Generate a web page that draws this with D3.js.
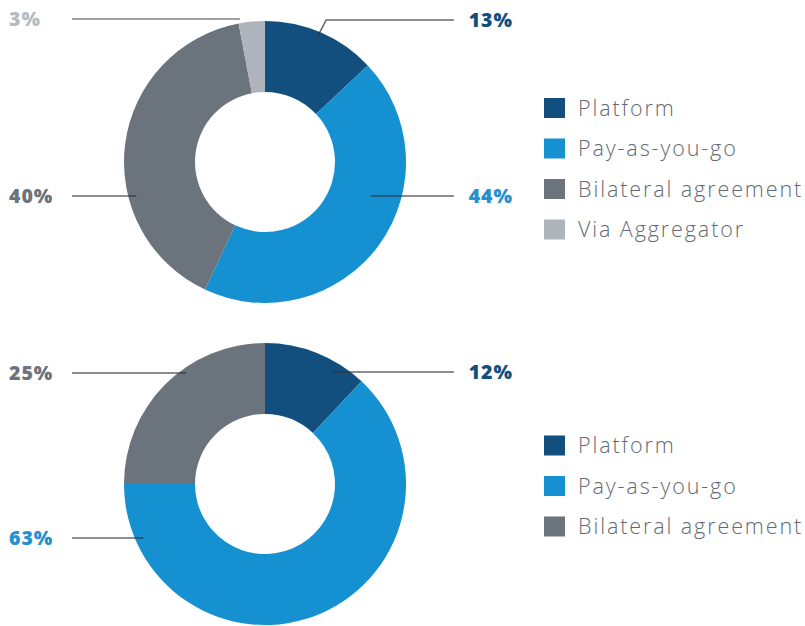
<!DOCTYPE html>
<html>
<head>
<meta charset="utf-8">
<script src="https://cdn.jsdelivr.net/npm/d3@7"></script>
<style>
  html, body { margin: 0; padding: 0; background: #fff; }
  svg { display: block; }
</style>
</head>
<body>
<svg id="chart" width="805" height="626"></svg>
<script>
// Categories and shares (%) for each donut
const topCategories = ["Platform", "Pay-as-you-go", "Bilateral agreement", "Via Aggregator"];
const topValues = [13, 44, 40, 3];

const bottomCategories = ["Platform", "Pay-as-you-go", "Bilateral agreement"];
const bottomValues = [12, 63, 25];

// Colours per category
const palette = {
  "Platform": "#134f7e",
  "Pay-as-you-go": "#1591d2",
  "Bilateral agreement": "#6b737c",
  "Via Aggregator": "#adb4bb"
};
const labelColor = {
  "Platform": "#134f7e",
  "Pay-as-you-go": "#2490d0",
  "Bilateral agreement": "#6b737c",
  "Via Aggregator": "#b5bbc1"
};

// Label layout: side, label y, and where the leader enters the ring
const topLayout = [
  { side: "right", y: 20, anchorR: 138, elbow: true },
  { side: "right", y: 196, anchorR: 111 },
  { side: "left", y: 196, anchorR: 133 },
  { side: "left", y: 19, anchorR: 146 }
];
const bottomLayout = [
  { side: "right", y: 372, anchorR: 131 },
  { side: "left", y: 538, anchorR: 133 },
  { side: "left", y: 373, anchorR: 136 }
];

const svg = d3.select("#chart");
const font = "'Open Sans', 'DejaVu Sans', sans-serif";
const pctSpacing = 1.0;

function drawDonut(categories, values, layout, cx, cy, legendY) {
  const g = svg.append("g");
  const pie = d3.pie().sort(null).value(d => d)(values);
  const arc = d3.arc().innerRadius(70).outerRadius(141);

  g.append("g")
    .attr("transform", `translate(${cx},${cy})`)
    .selectAll("path")
    .data(pie)
    .join("path")
    .attr("d", arc)
    .attr("fill", (d, i) => palette[categories[i]]);

  // leader lines and percentage labels
  pie.forEach((d, i) => {
    const L = layout[i];
    const dy = L.y - cy;
    let ax, ay = L.y;
    const leftEdgeX = 72, rightEdgeX = 454;
    const lines = g.append("g");
    if (L.elbow) {
      const mid = (d.startAngle + d.endAngle) / 2;
      const px = cx + Math.sin(mid) * L.anchorR * 0.97;
      const py = cy - Math.cos(mid) * L.anchorR;
      lines.append("polyline")
        .attr("points", `${px},${py} ${px + 8},${L.y} ${rightEdgeX},${L.y}`)
        .attr("fill", "none");
    } else {
      const dx = Math.sqrt(Math.max(0, L.anchorR * L.anchorR - dy * dy));
      if (L.side === "right") {
        ax = cx + dx;
        lines.append("line").attr("x1", ax).attr("x2", rightEdgeX);
      } else {
        ax = cx - dx;
        if (L.anchorR > 141) ax = cx - 25;
        lines.append("line").attr("x1", leftEdgeX).attr("x2", ax);
      }
      lines.select("line").attr("y1", ay).attr("y2", ay);
    }
    lines.selectAll("*")
      .attr("stroke", "#2b3036")
      .attr("stroke-opacity", categories[i] === "Via Aggregator" ? 0.62 : 0.72)
      .attr("stroke-width", 1.6);

    g.append("text")
      .attr("x", L.side === "right" ? 512 + pctSpacing : 9)
      .attr("y", L.y)
      .attr("dy", "0.35em")
      .attr("text-anchor", L.side === "right" ? "end" : "start")
      .attr("font-family", font)
      .attr("font-weight", 800)
      .attr("font-size", 19.5)
      .attr("letter-spacing", pctSpacing)
      .attr("fill", labelColor[categories[i]])
      .text(d.data + "%");
  });

  // legend
  const lg = g.append("g").attr("transform", `translate(544,${legendY})`);
  const rows = lg.selectAll("g")
    .data(categories)
    .join("g")
    .attr("transform", (d, i) => `translate(0,${i * 40.5})`);
  rows.append("rect")
    .attr("x", 0).attr("y", -10)
    .attr("width", 21).attr("height", 20)
    .attr("fill", d => palette[d]);
  rows.append("text")
    .attr("x", 34)
    .attr("y", 0)
    .attr("dy", "0.36em")
    .attr("font-family", font)
    .attr("font-weight", 300)
    .attr("font-size", 21.5)
    .attr("letter-spacing", 1.9)
    .attr("fill", "#626a73")
    .text(d => d);
}

drawDonut(topCategories, topValues, topLayout, 265, 162, 108);
drawDonut(bottomCategories, bottomValues, bottomLayout, 265, 484, 445.5);
</script>
</body>
</html>
